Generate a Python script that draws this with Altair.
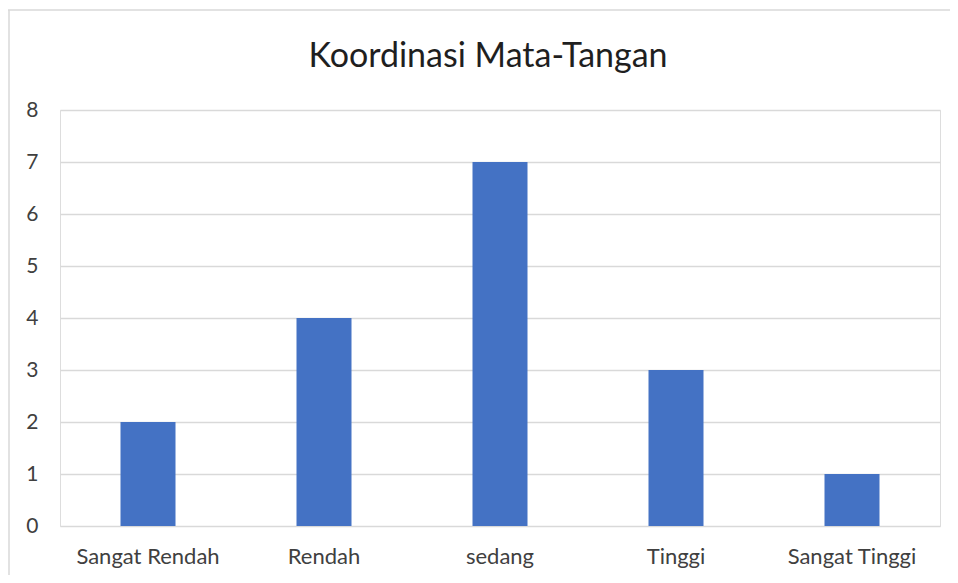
import altair as alt
import pandas as pd

categories = ["Sangat Rendah", "Rendah", "sedang", "Tinggi", "Sangat Tinggi"]
values = [2, 4, 7, 3, 1]
title_text = "Koordinasi Mata-Tangan"
y_ticks = [0, 1, 2, 3, 4, 5, 6, 7, 8]

df = pd.DataFrame({"kategori": categories, "nilai": values})

FONT = "Lato"

bars = alt.Chart(df).mark_bar(color="#4472C4").encode(
    x=alt.X(
        "kategori:N",
        sort=categories,
        title=None,
        scale=alt.Scale(paddingInner=0.6875, paddingOuter=0.34375),
        axis=alt.Axis(
            labelAngle=0, domain=False, ticks=False, grid=False,
            labelFont=FONT, labelFontSize=22, labelColor="#404040",
            labelPadding=20,
        ),
    ),
    y=alt.Y(
        "nilai:Q",
        title=None,
        scale=alt.Scale(domain=[0, 8], nice=False),
        axis=alt.Axis(
            values=y_ticks, domain=False, ticks=False,
            gridColor="#d9d9d9", gridWidth=1.5,
            labelFont=FONT, labelFontSize=21, labelColor="#404040",
            labelPadding=22,
        ),
    ),
)

one = pd.DataFrame({"a": [0]})

frame_top = alt.Chart(one).mark_rule(
    stroke="#d9d9d9", strokeWidth=1.5, clip=False
).encode(
    x=alt.value(-52),
    x2=alt.value(1100),
    y=alt.value(-100),
)

frame_left = alt.Chart(one).mark_rule(
    stroke="#d9d9d9", strokeWidth=1.5, clip=False
).encode(
    x=alt.value(-51),
    y=alt.value(-100),
    y2=alt.value(1100),
)

title = alt.Chart(pd.DataFrame({"t": [title_text]})).mark_text(
    font=FONT, fontSize=34, color="#1f1f1f", align="center",
    baseline="alphabetic",
).encode(
    text="t:N",
    x=alt.value(428),
    y=alt.value(-43),
)

chart = alt.layer(frame_top, frame_left, bars, title).properties(
    width=880,
    height=416,
    autosize=alt.AutoSizeParams(type="none"),
    padding={"left": 52, "top": 102, "right": 10, "bottom": 49},
).configure_view(stroke=None).configure(background="white")

chart.save("out.html", embed_options={"renderer": "svg", "actions": False})
